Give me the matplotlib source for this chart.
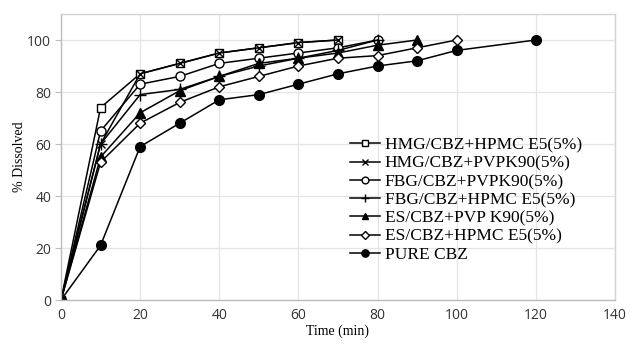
import numpy as np
import matplotlib.pyplot as plt

# dissolution data
time_sq = [0, 10, 20, 30, 40, 50, 60, 70]
hmg_hpmc = [0, 74, 87, 91, 95, 97, 99, 100]
time_x = [0, 10, 20, 30, 40, 50, 60, 70]
hmg_pvp = [0, 60, 87, 91, 95, 97, 99, 100]
time_circ = [0, 10, 20, 30, 40, 50, 60, 70, 80]
fbg_pvp = [0, 65, 83, 86, 91, 93, 95, 97, 100]
time_plus = [0, 10, 20, 30, 40, 50, 60, 70, 80]
fbg_hpmc = [0, 60, 79, 81, 86, 90, 93, 96, 100]
time_tri = [0, 10, 20, 30, 40, 50, 60, 70, 80, 90]
es_pvp = [0, 55, 72, 80.5, 86, 91, 93, 95, 98, 100]
time_dia = [0, 10, 20, 30, 40, 50, 60, 70, 80, 90, 100]
es_hpmc = [0, 53, 68, 76, 82, 86, 90, 93, 94, 97, 100]
time_pure = [0, 10, 20, 30, 40, 50, 60, 70, 80, 90, 100, 120]
pure_cbz = [0, 21, 59, 68, 77, 79, 83, 87, 90, 92, 96, 100]

labels = ['HMG/CBZ+HPMC E5(5%)', 'HMG/CBZ+PVPK90(5%)', 'FBG/CBZ+PVPK90(5%)',
          'FBG/CBZ+HPMC E5(5%)', 'ES/CBZ+PVP K90(5%)', 'ES/CBZ+HPMC E5(5%)',
          'PURE CBZ']

fig = plt.figure(figsize=(6.3, 3.45), dpi=100)
ax = fig.add_axes([61 / 630, 1 - 300 / 345, 554 / 630, 286 / 345])

lw = 1.1
common = dict(color='black', lw=lw, mec='black')
ax.plot(time_sq, hmg_hpmc, marker='s', ms=6, mfc='white', mew=1.0, label=labels[0], **common)
ax.plot(time_x, hmg_pvp, marker='x', ms=5.5, mew=1.0, label=labels[1], **common)
ax.plot(time_circ, fbg_pvp, marker='o', ms=6.5, mfc='white', mew=1.0, label=labels[2], **common)
ax.plot(time_plus, fbg_hpmc, marker='+', ms=8, mew=1.0, label=labels[3], **common)
ax.plot(time_tri, es_pvp, marker='^', ms=6.5, mfc='black', label=labels[4], **common)
ax.plot(time_dia, es_hpmc, marker='D', ms=5, mfc='white', mew=1.0, label=labels[5], **common)
ax.plot(time_pure, pure_cbz, marker='o', ms=7, mfc='black', label=labels[6], **common)

ax.set_xlim(0, 140)
ax.set_ylim(0, 110)
ax.set_xticks(np.arange(0, 141, 20))
ax.set_yticks(np.arange(0, 101, 20))
ax.grid(True, color='#e4e4e4', lw=0.9)
ax.set_axisbelow(True)
for s in ax.spines.values():
    s.set_color('#d4d4d4')
    s.set_linewidth(1.0)
ax.spines['left'].set_color('#bcbcbc')
ax.spines['bottom'].set_color('#bcbcbc')
ax.tick_params(axis='both', labelsize=10, colors='#bcbcbc', labelcolor='#333333')
ax.tick_params(axis='x', length=0, pad=6)
ax.tick_params(axis='y', length=4, pad=3)
for t in ax.get_xticklabels() + ax.get_yticklabels():
    t.set_family('Open Sans')

ax.set_xlabel('Time (min)', family='Liberation Serif', fontsize=10, labelpad=1)
ax.set_ylabel('% Dissolved', family='Liberation Serif', fontsize=10, labelpad=1)

leg = ax.legend(loc='upper left', bbox_to_anchor=(0.509, 0.593), frameon=False,
                prop={'family': 'Liberation Serif', 'size': 12.5},
                handlelength=1.75, handletextpad=0.25, labelspacing=0.12,
                markerscale=0.75, borderaxespad=0)

fig.savefig('out.png', dpi=100)
